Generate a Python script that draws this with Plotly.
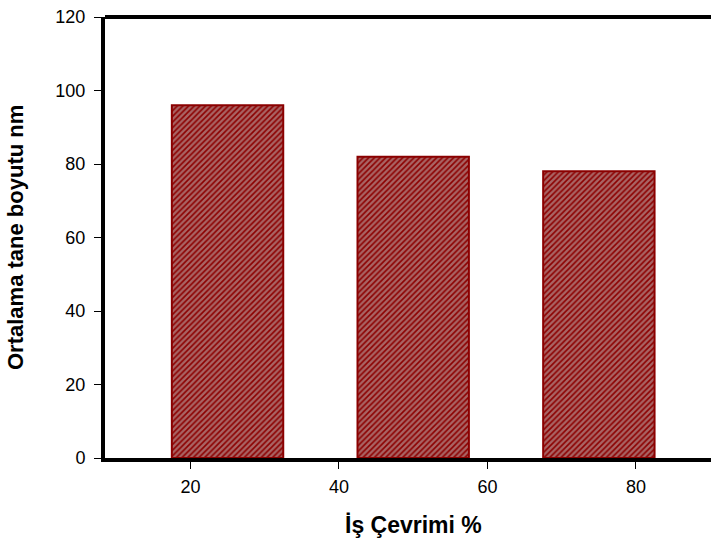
import plotly.graph_objects as go

categories = [25, 50, 75]
values = [96, 82, 78]
x_ticks = [20, 40, 60, 80]
y_ticks = [0, 20, 40, 60, 80, 100, 120]

W, H = 711, 545
L, R, T, B = 105, 0, 17, 87
pw, ph = W - L - R, H - T - B

fig = go.Figure()
fig.add_trace(go.Bar(
    x=categories, y=values, width=15,
    marker=dict(
        color="#8B0000",
        line=dict(color="#8B0000", width=2),
        pattern=dict(shape="/", bgcolor="#8B0000", fgcolor="#C8C8C8",
                     fillmode="overlay", size=4, solidity=0.6),
    ),
    showlegend=False,
))

font_family = "Liberation Sans, Arial, sans-serif"
fig.update_layout(
    width=W, height=H,
    margin=dict(l=L, r=R, t=T, b=B),
    plot_bgcolor="white", paper_bgcolor="white",
    font=dict(family=font_family, color="black"),
    xaxis=dict(
        range=[8.5, 90.1], tickmode="array", tickvals=x_ticks,
        showline=True, linecolor="black", linewidth=4,
        ticks="outside", ticklen=7, tickwidth=1, tickcolor="black",
        showgrid=False, zeroline=False, automargin=False,
        tickfont=dict(size=18, family=font_family), ticklabelstandoff=2,
    ),
    yaxis=dict(
        range=[0, 120], tickmode="array", tickvals=y_ticks,
        showline=True, linecolor="black", linewidth=4,
        ticks="outside", ticklen=7, tickwidth=1, tickcolor="black",
        showgrid=False, zeroline=False, automargin=False,
        tickfont=dict(size=18, family=font_family), ticklabelstandoff=5,
    ),
)
fig.add_shape(type="line", xref="paper", yref="paper", x0=0, x1=1, y0=1, y1=1,
              line=dict(color="black", width=4))
fig.add_annotation(text="<b>İş Çevrimi %</b>", xref="paper", yref="paper",
                   x=(413 - L) / pw, y=(H - B - 525) / ph, xanchor="center", yanchor="middle",
                   showarrow=False, font=dict(size=23, family=font_family, color="black"))
fig.add_annotation(text="<b>Ortalama tane boyutu nm</b>", xref="paper", yref="paper",
                   x=(16 - L) / pw, y=(H - B - 238) / ph, xanchor="center", yanchor="middle",
                   textangle=-90, showarrow=False,
                   font=dict(size=22, family=font_family, color="black"))
fig.write_html("out.html", config={"displayModeBar": False},
               post_script="document.body.style.margin='0px';")
